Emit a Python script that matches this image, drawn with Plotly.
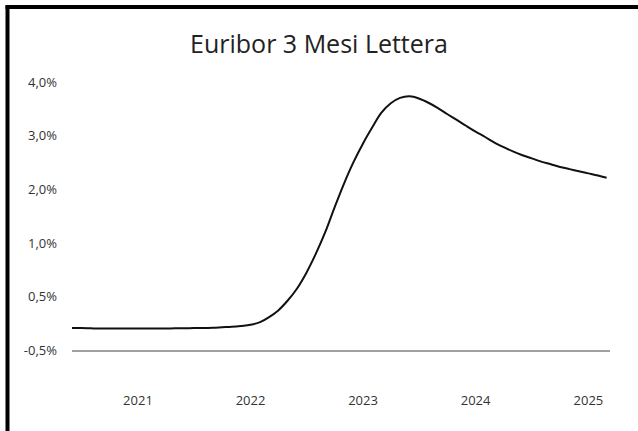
import pandas as pd
import plotly.graph_objects as go

# Monthly 3-month Euribor fixings (percent), June 2020 - March 2025
dates = pd.date_range("2020-06-01", "2025-03-01", freq="MS").strftime("%Y-%m-%d").tolist()
rates_2020_2021 = [
    -0.59, -0.59, -0.595, -0.60, -0.60, -0.60, -0.60,
    -0.60, -0.60, -0.60, -0.60, -0.595, -0.595, -0.59,
    -0.59, -0.585, -0.575, -0.565, -0.55,
]
rates_2022 = [-0.53, -0.48, -0.39, -0.26, -0.08, 0.15, 0.44, 0.80, 1.21, 1.67, 2.12, 2.51]
rates_2023 = [2.86, 3.17, 3.43, 3.61, 3.71, 3.74, 3.70, 3.62, 3.52, 3.41, 3.30, 3.19]
rates_2024 = [3.08, 2.98, 2.88, 2.79, 2.71, 2.64, 2.58, 2.52, 2.47, 2.42, 2.38, 2.34]
rates_2025 = [2.30, 2.26, 2.22]
rates = rates_2020_2021 + rates_2022 + rates_2023 + rates_2024 + rates_2025

y_tickvals = [-1, 0, 1, 2, 3, 4]
y_ticktext = ["-0,5%", "0,5%", "1,0%", "2,0%", "3,0%", "4,0%"]
x_tickvals = ["2021-01-01", "2022-01-01", "2023-01-01", "2024-01-01", "2025-01-01"]
x_ticktext = ["2021", "2022", "2023", "2024", "2025"]

W, H = 638, 431
L, R, T, B = 72, 28, 61, 81
pw, ph = W - L - R, H - T - B


def px_x(p):
    return (p - L) / pw


def px_y(p):
    return (H - B - p) / ph


fig = go.Figure()
fig.add_trace(go.Scatter(
    x=dates, y=rates, mode="lines",
    line=dict(color="#111111", width=2, shape="spline", smoothing=1.0),
    hoverinfo="skip", showlegend=False,
))

font_family = "Open Sans, Noto Sans, sans-serif"

fig.update_layout(
    width=W, height=H,
    margin=dict(l=L, r=R, t=T, b=B),
    paper_bgcolor="white", plot_bgcolor="white",
    font=dict(family=font_family, color="#333333", size=13),
    title=dict(
        text="Euribor 3 Mesi Lettera",
        font=dict(family=font_family, size=25, color="#222222"),
        xref="container", x=0.5, xanchor="center",
        yref="container", y=1 - 44 / H, yanchor="middle",
    ),
    xaxis=dict(
        type="date",
        range=["2020-06-01", "2025-03-12"],
        tickvals=x_tickvals, ticktext=x_ticktext,
        showgrid=False, zeroline=False,
        showline=True, linecolor="#a0a0a0", linewidth=2,
        ticks="", ticklabelstandoff=37,
        tickfont=dict(size=13, color="#333333"),
    ),
    yaxis=dict(
        range=[-1, 4.4],
        tickvals=y_tickvals, ticktext=y_ticktext,
        showgrid=False, zeroline=False, showline=False,
        ticks="", ticklabelstandoff=14,
        tickfont=dict(size=13, color="#333333"),
    ),
    shapes=[
        dict(type="line", xref="paper", yref="paper",
             x0=px_x(7.5), x1=px_x(7.5), y0=px_y(5.5), y1=px_y(H + 5),
             line=dict(color="black", width=4)),
        dict(type="line", xref="paper", yref="paper",
             x0=px_x(5.5), x1=px_x(W + 5), y0=px_y(7), y1=px_y(7),
             line=dict(color="black", width=4)),
    ],
)

fig.write_html("out.html")
